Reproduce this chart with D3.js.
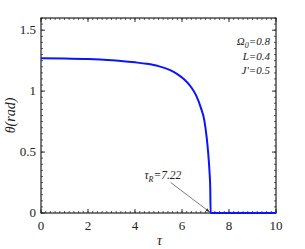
<!DOCTYPE html>
<html>
<head>
<meta charset="utf-8">
<script src="https://cdn.jsdelivr.net/npm/d3@7"></script>
<style>
body { margin: 0; background: #fff; }
</style>
</head>
<body>
<svg class="chart" width="305" height="249"></svg>
<script>
// curve
let tau   = [0, 1, 2, 3, 3.5, 4, 4.5, 5, 5.5, 5.8, 6.1, 6.4, 6.6, 6.8, 6.95, 7.05, 7.12, 7.17, 7.2, 7.22, 8, 9, 10];
let theta = [1.270, 1.268, 1.263, 1.253, 1.246, 1.236, 1.224, 1.205, 1.172, 1.140, 1.095, 1.030, 0.965, 0.865, 0.76, 0.62, 0.48, 0.34, 0.22, 0, 0, 0, 0];
let xTicks = [0, 2, 4, 6, 8, 10];
let yTicks = [0, 0.5, 1, 1.5];
let yTickLabels = ["0", "0.5", "1", "1.5"];
let params = [["Ω", "0", "=0.8"], ["L", "", "=0.4"], ["J'", "", "=0.5"]];
let tauR = 7.22;

const serif = "Liberation Serif";
var svg = d3.select(".chart");
let margin = {left: 41, right: 29, top: 18, bottom: 36};
let width = +svg.attr("width");
let height = +svg.attr("height");
let innerWidth = width - margin.left - margin.right;
let innerHeight = height - margin.top - margin.bottom;

var xScale = d3.scaleLinear().domain([0, 10]).range([0, innerWidth]);
var yScale = d3.scaleLinear().domain([0, 1.6]).range([innerHeight, 0]);

let g = svg.append("g").attr("transform", `translate(${margin.left}, ${margin.top})`);

// minor ticks on all four sides, pointing in
let xMinor = d3.range(0, 10.001, 0.2);
let yMinor = d3.range(0, 1.6001, 0.05);
let tickColor = "#333";

function drawTicks(vals, len, width) {
	vals.forEach(v => {
		let x = xScale(v);
		g.append("line").attr("x1", x).attr("x2", x).attr("y1", innerHeight).attr("y2", innerHeight - len)
		 .attr("stroke", tickColor).attr("stroke-width", width);
		g.append("line").attr("x1", x).attr("x2", x).attr("y1", 0).attr("y2", len)
		 .attr("stroke", tickColor).attr("stroke-width", width);
	});
}
function drawYTicks(vals, len, width) {
	vals.forEach(v => {
		let y = yScale(v);
		g.append("line").attr("x1", 0).attr("x2", len).attr("y1", y).attr("y2", y)
		 .attr("stroke", tickColor).attr("stroke-width", width);
		g.append("line").attr("x1", innerWidth).attr("x2", innerWidth - len).attr("y1", y).attr("y2", y)
		 .attr("stroke", tickColor).attr("stroke-width", width);
	});
}
drawTicks(xMinor, 2, 0.8);
drawTicks(xTicks, 4, 1);
drawYTicks(yMinor, 2, 0.8);
drawYTicks(yTicks, 4, 1);

// frame
g.append("rect")
 .attr("width", innerWidth)
 .attr("height", innerHeight)
 .attr("fill", "none")
 .attr("stroke", "#222")
 .attr("stroke-width", 1.2);

// tick labels
xTicks.forEach(v => {
	g.append("text")
	 .attr("x", xScale(v))
	 .attr("y", innerHeight + 17)
	 .attr("text-anchor", "middle")
	 .attr("font-family", serif)
	 .attr("font-size", 13)
	 .attr("fill", "#222")
	 .text(v);
});
yTicks.forEach((v, i) => {
	g.append("text")
	 .attr("x", -5)
	 .attr("y", yScale(v) + 4)
	 .attr("text-anchor", "end")
	 .attr("font-family", serif)
	 .attr("font-size", 13)
	 .attr("fill", "#222")
	 .text(yTickLabels[i]);
});

// curve
let pts = tau.map((t, i) => [t, theta[i]]);
g.append("path")
 .datum(pts)
 .attr("fill", "none")
 .attr("stroke", "#0a14ff")
 .attr("stroke-width", 2)
 .attr("d", d3.line()
	.x(d => xScale(d[0]))
	.y(d => yScale(d[1]))
	.curve(d3.curveMonotoneX)
 );

// axis labels
svg.append("text")
 .attr("x", margin.left + innerWidth / 2 + 1)
 .attr("y", 245)
 .attr("text-anchor", "middle")
 .attr("font-family", serif)
 .attr("font-size", 14)
 .attr("font-style", "italic")
 .attr("fill", "#222")
 .text("τ");

svg.append("text")
 .attr("transform", `translate(15, ${margin.top + innerHeight / 2}) rotate(-90)`)
 .attr("text-anchor", "middle")
 .attr("font-family", serif)
 .attr("font-size", 14)
 .attr("font-style", "italic")
 .attr("fill", "#222")
 .text("θ(rad)");

// parameter box
params.forEach((p, i) => {
	let t = g.append("text")
	 .attr("x", innerWidth - 6)
	 .attr("y", 27 + i * 14.5)
	 .attr("text-anchor", "end")
	 .attr("font-family", serif)
	 .attr("font-size", 11)
	 .attr("font-style", "italic")
	 .attr("fill", "#222");
	t.append("tspan").text(p[0]);
	if (p[1]) t.append("tspan").attr("font-size", 8).attr("dy", 3).text(p[1]);
	t.append("tspan").attr("dy", p[1] ? -3 : 0).text(p[2]);
});

// tau_R annotation with arrow
svg.append("defs").append("marker")
 .attr("id", "arr")
 .attr("viewBox", "0 0 10 10")
 .attr("refX", 10).attr("refY", 5)
 .attr("markerWidth", 6).attr("markerHeight", 6)
 .attr("orient", "auto")
 .append("path").attr("d", "M0,1 L10,5 L0,9 Z").attr("fill", "#333");

let ann = g.append("text")
 .attr("x", xScale(4.4))
 .attr("y", yScale(0.28))
 .attr("font-family", serif)
 .attr("font-size", 11.5)
 .attr("font-style", "italic")
 .attr("fill", "#222");
ann.append("tspan").text("τ");
ann.append("tspan").attr("font-size", 8).attr("dy", 3).text("R");
ann.append("tspan").attr("dy", -3).text("=" + tauR);

g.append("line")
 .attr("x1", xScale(5.52))
 .attr("y1", yScale(0.25))
 .attr("x2", xScale(tauR) - 1)
 .attr("y2", yScale(0) - 1)
 .attr("stroke", "#444")
 .attr("stroke-width", 0.7)
 .attr("marker-end", "url(#arr)");
</script>
</body>
</html>
